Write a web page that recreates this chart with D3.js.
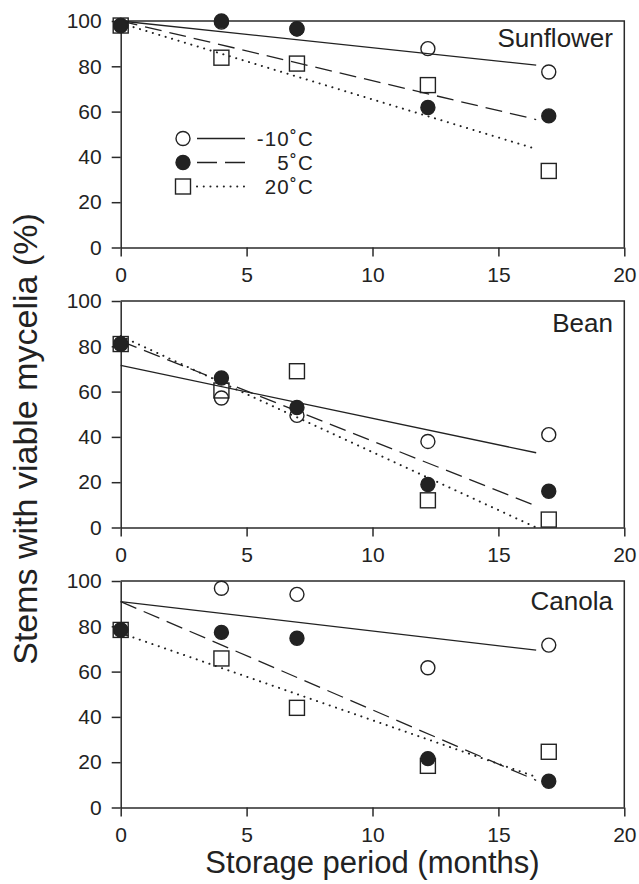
<!DOCTYPE html>
<html>
<head>
<meta charset="utf-8">
<script src="https://cdn.jsdelivr.net/npm/d3@7"></script>
<style>
  body { margin: 0; background: #fff; }
  svg { display: block; }
  .axis path, .axis line { stroke: #2a2a2a; stroke-width: 1.5; }
  .axis text { font-family: "Liberation Sans", Arial, sans-serif; font-size: 21px; fill: #222; }
</style>
</head>
<body>
<svg id="chart" width="639" height="884"></svg>
<script>
// storage period (months) where stems were sampled
var months = [0, 4, 7, 12.2, 17];
var crops = ["Sunflower", "Bean", "Canola"];
var temps = ["-10˚C", "5˚C", "20˚C"];
var xTicks = [0, 5, 10, 15, 20];
var yTicks = [0, 20, 40, 60, 80, 100];

// % stems with viable mycelia, one array per temperature (-10, 5, 20 C)
var sunflowerM10 = [98, 99.5, 96.5, 87.8, 77.5];
var sunflower5 = [98, 100, 96.6, 61.8, 58.1];
var sunflower20 = [98, 83.8, 81.2, 71.7, 33.8];

var beanM10 = [81, 57.2, 49.5, 38, 41];
var bean5 = [81, 66, 53, 19, 16];
var bean20 = [81, 60.5, 69, 12, 3.5];

var canolaM10 = [78.4, 96.8, 94.1, 61.7, 71.7];
var canola5 = [78.4, 77.3, 74.7, 21.6, 11.6];
var canola20 = [78.4, 65.8, 44, 18.4, 24.6];

// fitted regression lines, value at start and end of fitX
var fitX = [0, 16.5];
var sunflowerFits = [[100, 80.5], [100, 56.5], [99, 43.5]];
var beanFits = [[71.6, 33], [82.3, 9.5], [84.5, 0]];
var canolaFits = [[90.9, 69.5], [90.9, 12], [77, 13.5]];

var cropSeries = [
    [sunflowerM10, sunflower5, sunflower20],
    [beanM10, bean5, bean20],
    [canolaM10, canola5, canola20]
];
var cropFits = [sunflowerFits, beanFits, canolaFits];

var font = '"Liberation Sans", Arial, sans-serif';
var ink = "#222";
var dashes = [null, "17,8", "0.1,6.6"];
var titleDy = [26, 31, 29];

var svg = d3.select("#chart");

var x = d3.scaleLinear().domain([0, 20]).range([120.7, 624.3]);

function drawMarker(g, type, cx, cy) {
    if (type == 2) {
        g.append("rect")
            .attr("x", cx - 7.5).attr("y", cy - 7.5)
            .attr("width", 15).attr("height", 15)
            .attr("fill", "none").attr("stroke", ink).attr("stroke-width", 1.4);
    } else {
        g.append("circle")
            .attr("cx", cx).attr("cy", cy).attr("r", 7)
            .attr("fill", type == 1 ? ink : "none")
            .attr("stroke", ink).attr("stroke-width", 1.4);
    }
}

function lineStyle(sel, k) {
    sel.attr("fill", "none")
        .attr("stroke", ink)
        .attr("stroke-width", k == 2 ? 2 : 1.3)
        .attr("stroke-linecap", k == 2 ? "round" : "butt")
        .attr("stroke-dasharray", dashes[k]);
}

crops.forEach(function (crop, i) {
    var top = 21 + i * 280;
    var bottom = top + 226.5;
    var y = d3.scaleLinear().domain([0, 100]).range([bottom, top]);
    var g = svg.append("g");

    // frame: top and right
    g.append("path")
        .attr("d", "M" + x(0) + "," + y(100) + "H" + x(20) + "V" + y(0))
        .attr("fill", "none").attr("stroke", "#2a2a2a").attr("stroke-width", 1.5);

    g.append("g")
        .attr("class", "axis")
        .attr("transform", "translate(" + x(0) + ",0)")
        .call(d3.axisLeft(y).tickValues(yTicks).tickSize(9).tickPadding(10).tickSizeOuter(0));

    g.append("g")
        .attr("class", "axis")
        .attr("transform", "translate(0," + y(0) + ")")
        .call(d3.axisBottom(x).tickValues(xTicks).tickSize(9).tickPadding(11).tickSizeOuter(0));

    // regression lines
    cropFits[i].forEach(function (f, k) {
        var line = d3.line()
            .x(function (d) { return x(d); })
            .y(function (d, j) { return y(f[j]); });
        g.append("path").attr("d", line(fitX)).call(lineStyle, k);
    });

    // points: squares, open circles, filled circles
    [2, 0, 1].forEach(function (k) {
        cropSeries[i][k].forEach(function (v, j) {
            drawMarker(g, k, x(months[j]), y(v));
        });
    });

    g.append("text")
        .attr("x", 613)
        .attr("y", top + titleDy[i])
        .attr("text-anchor", "end")
        .style("font-family", font)
        .style("font-size", "26px")
        .style("fill", ink)
        .text(crop);
});

// legend in the first panel
var legendY = [138.5, 162.5, 186.5];
var legend = svg.append("g");
temps.forEach(function (t, k) {
    drawMarker(legend, k, 183, legendY[k]);
    legend.append("line")
        .attr("x1", 197).attr("x2", 245)
        .attr("y1", legendY[k]).attr("y2", legendY[k])
        .call(lineStyle, k)
        .attr("stroke-dasharray", k == 1 ? "20,8" : dashes[k]);
    legend.append("text")
        .attr("x", 314)
        .attr("y", legendY[k] + 7.5)
        .attr("text-anchor", "end")
        .style("font-family", font)
        .style("font-size", "20.5px")
        .style("letter-spacing", "1.2px")
        .style("fill", ink)
        .text(t);
});

// axis titles
svg.append("text")
    .attr("x", 372.5)
    .attr("y", 873)
    .attr("text-anchor", "middle")
    .style("font-family", font)
    .style("font-size", "31px")
    .style("fill", ink)
    .text("Storage period (months)");

svg.append("text")
    .attr("transform", "translate(37,439) rotate(-90)")
    .attr("text-anchor", "middle")
    .style("font-family", font)
    .style("font-size", "34px")
    .style("fill", ink)
    .text("Stems with viable mycelia (%)");
</script>
</body>
</html>
